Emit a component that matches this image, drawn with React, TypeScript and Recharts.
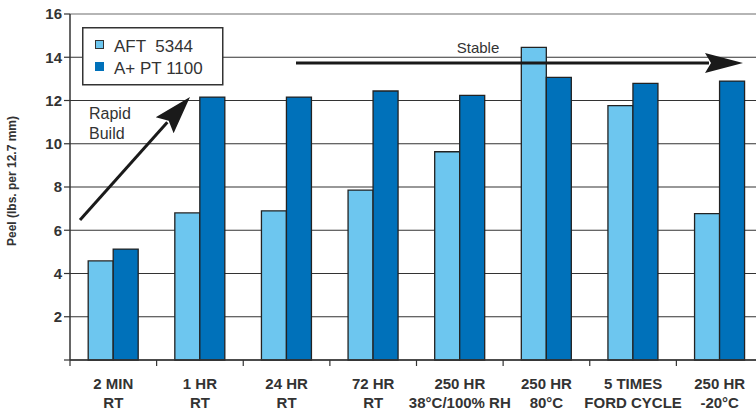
import React from 'react';
import { BarChart, Bar, XAxis, YAxis, CartesianGrid, ReferenceLine, Legend } from 'recharts';

const categoryLine1 = ['2 MIN', '1 HR', '24 HR', '72 HR', '250 HR', '250 HR', '5 TIMES', '250 HR'];
const categoryLine2 = ['RT', 'RT', 'RT', 'RT', '38°C/100% RH', '80°C', 'FORD CYCLE', '-20°C'];
const aft5344 = [4.58, 6.8, 6.9, 7.86, 9.63, 14.46, 11.76, 6.77];
const apt1100 = [5.13, 12.16, 12.16, 12.44, 12.24, 13.07, 12.79, 12.9];
const yTicks = [0, 2, 4, 6, 8, 10, 12, 14, 16];
const seriesNames = ['AFT  5344', 'A+ PT 1100'];
const seriesColors = ['#6DC6EF', '#0071BA'];

const data = categoryLine1.map((c, i) => ({
  cat: c + '|' + categoryLine2[i],
  a: aft5344[i],
  b: apt1100[i],
}));

const narrow = '"Liberation Sans Narrow", "Arial Narrow", "Liberation Sans", Arial, sans-serif';
const sans = '"Liberation Sans", Arial, Helvetica, sans-serif';

const XTick = (props: any) => {
  const { x, y, payload, index, width, visibleTicksCount } = props;
  const count = visibleTicksCount || data.length;
  const off = payload && typeof payload.offset === 'number' && payload.offset > 0 ? payload.offset : width / count / 2;
  const [l1, l2] = String(payload.value).split('|');
  return (
    <g>
      <line x1={x - off} x2={x - off} y1={y} y2={y + 6} stroke="#333" strokeWidth={1.2} />
      {index === count - 1 && (
        <line x1={x + off} x2={x + off} y1={y} y2={y + 6} stroke="#333" strokeWidth={1.2} />
      )}
      <text x={x} y={y + 29} textAnchor="middle" fontFamily={narrow} fontWeight="bold" fontSize={15} fill="#333">
        {l1}
      </text>
      <text x={x} y={y + 48} textAnchor="middle" fontFamily={narrow} fontWeight="bold" fontSize={15} fill="#333">
        {l2}
      </text>
    </g>
  );
};

const LegendBox = (props: any) => {
  const given = props.payload || [];
  const entries = seriesNames.map((n, i) => {
    const found = given.find((p: any) => p.value === n);
    return { value: n, color: found && found.color ? found.color : seriesColors[i] };
  });
  return (
    <svg width={142} height={59} style={{ display: 'block' }}>
      <rect x={0.75} y={0.75} width={140} height={57} fill="#fff" stroke="#333" strokeWidth={1.5} />
      {entries.map((p: any, i: number) => (
        <g key={i}>
          <rect
            x={i === 0 ? 13.5 : 13}
            y={i === 0 ? 13.5 : 35}
            width={i === 0 ? 8 : 9}
            height={i === 0 ? 8 : 9}
            fill={p.color}
            stroke={i === 0 ? '#333' : 'none'}
            strokeWidth={1}
          />
          <text x={32} y={i === 0 ? 25 : 47} fontFamily={sans} fontSize={17} fill="#333" style={{ whiteSpace: 'pre' }}>
            {p.value}
          </text>
        </g>
      ))}
    </svg>
  );
};

function arrowHead(tx: number, ty: number, fx: number, fy: number, len: number, half: number) {
  const dx = tx - fx;
  const dy = ty - fy;
  const d = Math.sqrt(dx * dx + dy * dy);
  const ux = dx / d;
  const uy = dy / d;
  const bx = tx - ux * len;
  const by = ty - uy * len;
  const nx = -uy;
  const ny = ux;
  return {
    base: [bx + ux * 4, by + uy * 4],
    points: `${tx},${ty} ${bx + nx * half},${by + ny * half} ${bx + ux * 6},${by + uy * 6} ${bx - nx * half},${by - ny * half}`,
  };
}

const rapid = arrowHead(190, 97, 80, 220, 38, 12);
const stable = arrowHead(743, 63, 296, 63, 38, 10);

export default function App() {
  return (
    <div style={{ position: 'absolute', left: 0, top: 0, width: 756, height: 415, overflow: 'hidden', background: '#fff' }}>
      <BarChart
        width={770}
        height={415}
        data={data}
        margin={{ top: 14, right: 7, left: 0, bottom: 0 }}
        barCategoryGap="21%"
        barGap={0}
      >
        <CartesianGrid vertical={false} stroke="#333" strokeWidth={1.2} />
        <XAxis
          dataKey="cat"
          height={55}
          tickSize={0}
          tickMargin={0}
          interval={0}
          tick={<XTick />}
          axisLine={{ stroke: '#333', strokeWidth: 1.5 }}
          tickLine={false}
        />
        <YAxis
          width={70}
          domain={[0, 16]}
          ticks={yTicks}
          interval={0}
          tickFormatter={(v: number) => (v === 0 ? '' : String(v))}
          tick={{ fontFamily: sans, fontSize: 15, fontWeight: 'bold', fill: '#333' }}
          tickSize={6}
          tickMargin={2}
          tickLine={{ stroke: '#333', strokeWidth: 1.2 }}
          axisLine={{ stroke: '#333', strokeWidth: 1.5 }}
          label={{
            value: 'Peel (lbs. per 12.7 mm)',
            angle: -90,
            position: 'insideLeft',
            offset: 12,
            dy: -6,
            style: { fontFamily: sans, fontSize: 12, fontWeight: 'bold', fill: '#333', textAnchor: 'middle' },
          }}
        />
        <ReferenceLine y={16} stroke="#b5b5b5" strokeWidth={1.8} />
        <Legend
          layout="vertical"
          align="center"
          verticalAlign="middle"
          content={<LegendBox />}
          wrapperStyle={{ position: 'absolute', left: 82, top: 27, width: 142, height: 59 }}
        />
        <Bar dataKey="a" name={seriesNames[0]} fill={seriesColors[0]} stroke="#222" strokeWidth={1.3} isAnimationActive={false} />
        <Bar dataKey="b" name={seriesNames[1]} fill={seriesColors[1]} stroke="#222" strokeWidth={1.3} isAnimationActive={false} />
      </BarChart>
      <svg width={756} height={415} style={{ position: 'absolute', left: 0, top: 0, pointerEvents: 'none' }}>
        <line x1={80} y1={220} x2={rapid.base[0]} y2={rapid.base[1]} stroke="#1a1a1a" strokeWidth={3} />
        <polygon points={rapid.points} fill="#1a1a1a" />
        <line x1={296} y1={63} x2={stable.base[0]} y2={stable.base[1]} stroke="#1a1a1a" strokeWidth={3.2} />
        <polygon points={stable.points} fill="#1a1a1a" />
        <text x={478} y={53} textAnchor="middle" fontFamily={sans} fontSize={15} fill="#333">Stable</text>
        <text x={89} y={119} fontFamily={sans} fontSize={16} fill="#333">Rapid</text>
        <text x={89} y={139} fontFamily={sans} fontSize={16} fill="#333">Build</text>
      </svg>
    </div>
  );
}
